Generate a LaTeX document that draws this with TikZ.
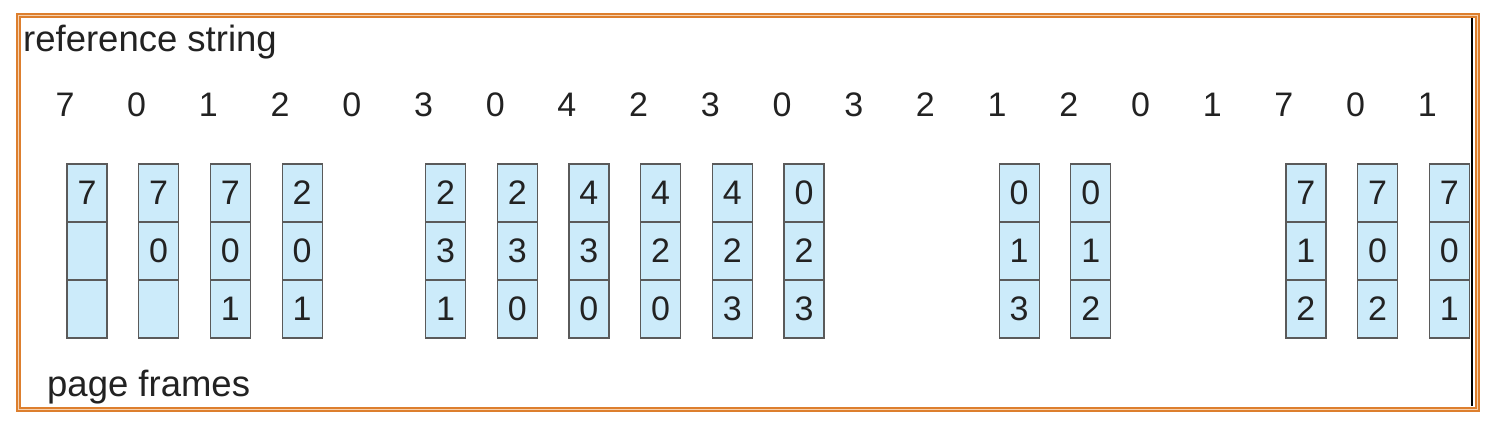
\documentclass[tikz,border=0pt]{standalone}
\usepackage{fontspec}
\setmainfont{Liberation Sans}
\definecolor{frameorange}{HTML}{DD7F2E}
\definecolor{framelight}{HTML}{F6D2B0}
\definecolor{cellblue}{HTML}{CCEBFA}
\definecolor{celledge}{HTML}{5A5A5A}
\definecolor{ink}{HTML}{222222}
\begin{document}
\begin{tikzpicture}[x=1pt,y=-1pt,
  cell/.style={draw=celledge, fill=cellblue, line width=1.2pt, minimum width=40pt,
    minimum height=58pt, inner sep=0pt, font=\fontsize{34}{34}\selectfont, text=ink},
  refdigit/.style={inner sep=0pt, font=\fontsize{34}{34}\selectfont, text=ink},
  label/.style={inner sep=0pt, anchor=base west, font=\fontsize{36.5}{36.5}\selectfont, text=ink}]
\useasboundingbox (0,0) rectangle (1494,423);
\fill[white] (0,0) rectangle (1494,423);
% frame
\draw[frameorange, line width=5pt] (18.5,15.5) rectangle (1477.5,409.5);
\draw[framelight, line width=1.5pt] (18.5,15.5) rectangle (1477.5,409.5);
% labels
\node[label] (refstr) at (23,51) {reference string};
\node[label] (pframes) at (47,396) {page frames};
% reference string
\foreach \d [count=\i from 0] in {7,0,1,2,0,3,0,4,2,3,0,3,2,1,2,0,1,7,0,1}
  \node[refdigit] (r\i) at ({65+71.7*\i},105) {\d};
% page frames
\foreach \c/\a/\b/\e in {0/7/{}/{},1/7/0/{},2/7/0/1,3/2/0/1,5/2/3/1,6/2/3/0,7/4/3/0,
    8/4/2/0,9/4/2/3,10/0/2/3,13/0/1/3,14/0/1/2,17/7/1/2,18/7/0/2,19/7/0/1}{
  \node[cell] (f\c-1) at ({87+71.7*\c},193) {\a};
  \node[cell] (f\c-2) at ({87+71.7*\c},251) {\b};
  \node[cell] (f\c-3) at ({87+71.7*\c},309) {\e};
}
% right black edge
\coordinate (bt) at (1472,18);
\coordinate (bb) at (1472,406);
\draw[black, line width=2.5pt] (bt) -- (bb);
\end{tikzpicture}
\end{document}
